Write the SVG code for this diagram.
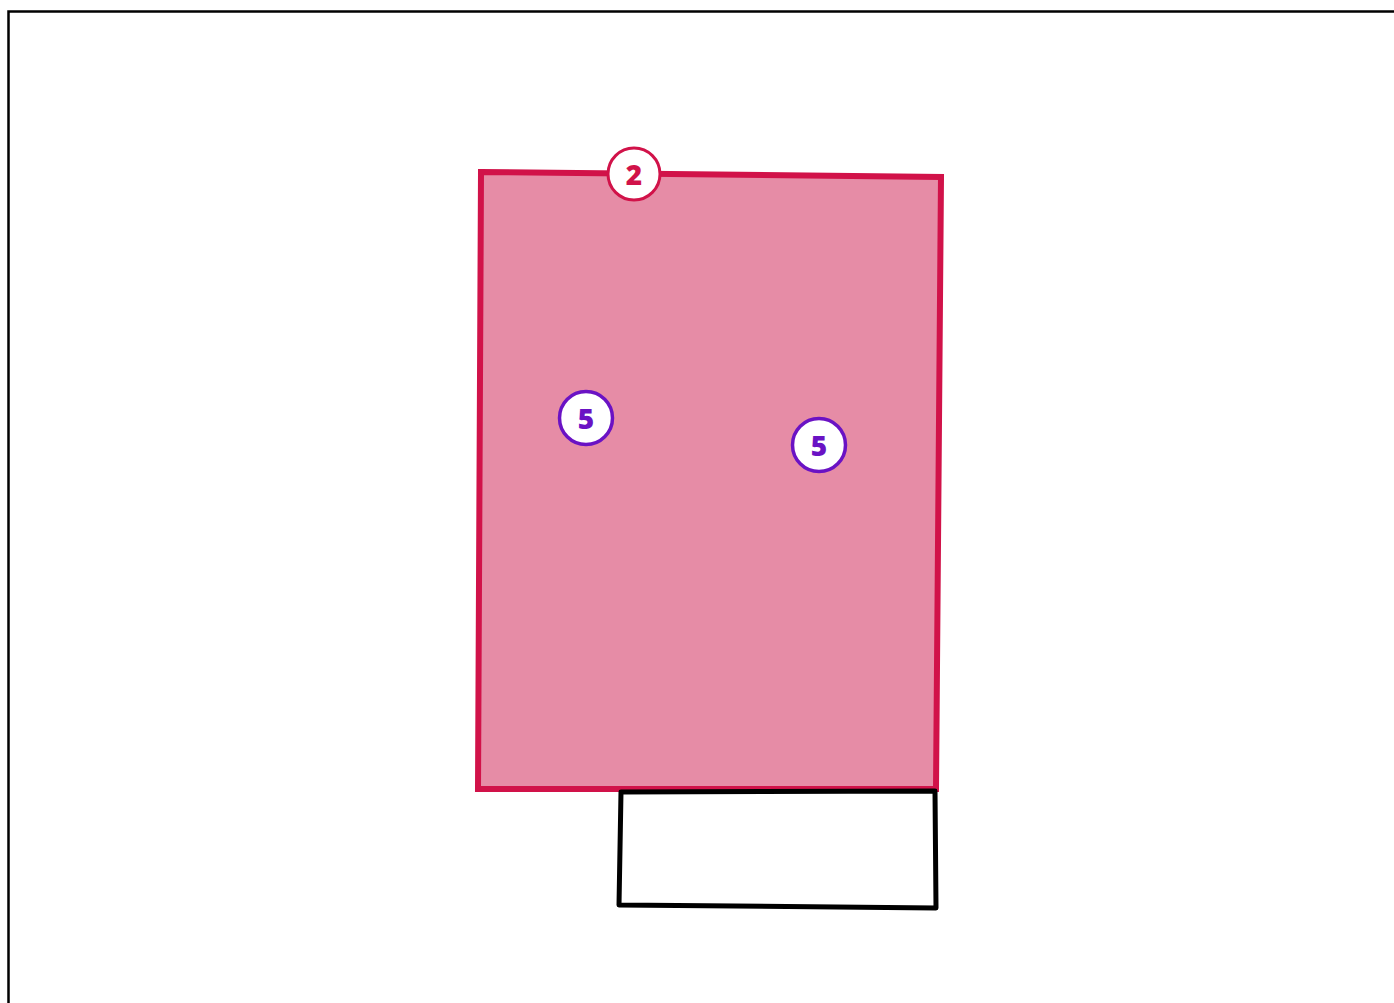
<svg xmlns="http://www.w3.org/2000/svg" width="1394" height="1003" viewBox="0 0 1394 1003">
<style>
.frame{fill:none;stroke:#000;stroke-width:2.5}
.room{fill:#E68CA6;stroke:#D11249;stroke-width:6;stroke-linejoin:miter}
.box{fill:#fff;stroke:#000;stroke-width:5;stroke-linejoin:round;stroke-linecap:round}
.badge2{fill:#fff;stroke:#D11249;stroke-width:3}
.badge5{fill:#fff;stroke:#6A12C4;stroke-width:3.5}
.t{font-family:"Open Sans","Noto Sans",sans-serif;font-weight:800;font-size:28px;text-anchor:middle;dominant-baseline:central}
</style>
<rect width="1394" height="1003" fill="#fff"/>
<path class="frame" d="M8.5,1003 V11.5 H1394"/>
<g id="room">
<path class="room" d="M481,172 L941,177 L936,789 L478,789 Z"/>
</g>
<g id="box">
<path class="box" d="M621,792 L935,791 L936,908 L619,905 Z"/>
</g>
<g id="badge-2">
<circle class="badge2" cx="634" cy="174" r="26"/>
<text class="t" x="634" y="174" fill="#D11249">2</text>
</g>
<g id="badge-5a">
<circle class="badge5" cx="586" cy="418" r="26.5"/>
<text class="t" x="586" y="418" fill="#6A12C4">5</text>
</g>
<g id="badge-5b">
<circle class="badge5" cx="819" cy="445" r="26.5"/>
<text class="t" x="819" y="445" fill="#6A12C4">5</text>
</g>
</svg>
